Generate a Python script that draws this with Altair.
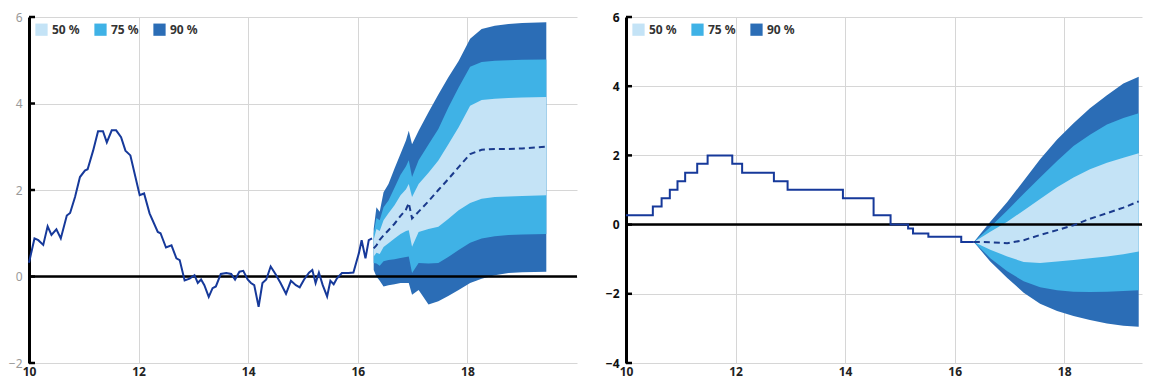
import altair as alt
import pandas as pd

# ---------------- Left panel ----------------
L_hist_x = [10.00, 10.10, 10.17, 10.26, 10.34, 10.41, 10.50, 10.58, 10.69, 10.75, 10.84, 10.93,
            11.02, 11.07, 11.17, 11.26, 11.35, 11.42, 11.51, 11.59, 11.68, 11.76, 11.85, 12.02,
            12.10, 12.20, 12.35, 12.40, 12.50, 12.60, 12.69, 12.75, 12.84, 12.93, 13.02, 13.08,
            13.14, 13.20, 13.28, 13.35, 13.41, 13.50, 13.60, 13.69, 13.76, 13.84, 13.91, 13.99,
            14.05, 14.11, 14.19, 14.26, 14.33, 14.41, 14.50, 14.59, 14.69, 14.78, 14.87, 14.94,
            15.02, 15.11, 15.17, 15.23, 15.29, 15.36, 15.44, 15.50, 15.56, 15.62, 15.71, 15.83,
            15.92, 16.02, 16.07, 16.14, 16.20, 16.26]
L_hist_y = [0.32, 0.88, 0.84, 0.73, 1.16, 0.96, 1.09, 0.88, 1.41, 1.47, 1.84, 2.30,
            2.45, 2.48, 2.91, 3.36, 3.36, 3.10, 3.38, 3.38, 3.22, 2.91, 2.80, 1.88,
            1.92, 1.46, 1.03, 1.00, 0.67, 0.72, 0.42, 0.38, -0.09, -0.05, 0.03, -0.15,
            -0.07, -0.20, -0.47, -0.27, -0.23, 0.06, 0.08, 0.06, -0.07, 0.11, 0.13, -0.07,
            -0.15, -0.20, -0.70, -0.15, -0.07, 0.23, 0.05, -0.15, -0.40, -0.10, -0.20, -0.25,
            -0.07, 0.09, 0.15, -0.15, 0.09, -0.20, -0.46, -0.10, -0.18, -0.04, 0.08, 0.08,
            0.09, 0.54, 0.84, 0.42, 0.84, 0.88]

L_fan_x = [16.29, 16.34, 16.40, 16.47, 16.56, 16.67, 16.78, 16.88, 16.93, 16.99, 17.11,
           17.29, 17.47, 17.65, 17.84, 18.05, 18.26, 18.50, 18.75, 19.00, 19.44]
L_hi90 = [1.10, 1.60, 1.50, 1.95, 2.14, 2.50, 2.84, 3.15, 3.37, 3.06, 3.37,
          3.80, 4.21, 4.60, 4.98, 5.50, 5.72, 5.80, 5.84, 5.86, 5.88]
L_hi75 = [1.00, 1.35, 1.30, 1.60, 1.76, 2.05, 2.35, 2.55, 2.69, 2.30, 2.69,
          3.05, 3.41, 3.90, 4.37, 4.85, 4.96, 4.99, 5.00, 5.01, 5.02]
L_hi50 = [0.85, 1.10, 1.05, 1.30, 1.46, 1.65, 1.88, 2.02, 2.14, 1.84, 2.14,
          2.40, 2.68, 3.05, 3.45, 3.95, 4.08, 4.11, 4.13, 4.14, 4.15]
L_med = [0.65, 0.72, 0.85, 0.95, 1.07, 1.22, 1.40, 1.55, 1.70, 1.34, 1.50,
         1.74, 2.00, 2.25, 2.53, 2.83, 2.93, 2.95, 2.95, 2.96, 3.00]
L_lo50 = [0.46, 0.55, 0.52, 0.68, 0.77, 0.88, 0.98, 1.05, 1.07, 0.69, 1.03,
          1.10, 1.15, 1.33, 1.53, 1.70, 1.80, 1.84, 1.85, 1.86, 1.88]
L_lo75 = [0.31, 0.30, 0.25, 0.35, 0.38, 0.40, 0.43, 0.45, 0.46, 0.08, 0.31,
          0.30, 0.31, 0.45, 0.61, 0.78, 0.88, 0.93, 0.96, 0.97, 0.98]
L_lo90 = [0.15, 0.00, -0.10, -0.23, -0.20, -0.18, -0.15, -0.15, -0.15, -0.42, -0.31,
          -0.65, -0.57, -0.45, -0.31, -0.15, -0.05, 0.03, 0.08, 0.10, 0.11]

# ---------------- Right panel ----------------
R_hist_x = [10.00, 10.49, 10.65, 10.80, 10.94, 11.08, 11.30, 11.49, 11.94, 12.12, 12.70,
            12.95, 13.96, 14.52, 14.83, 15.15, 15.24, 15.52, 16.12, 16.35]
R_hist_y = [0.27, 0.52, 0.76, 1.01, 1.25, 1.50, 1.76, 2.00, 1.76, 1.50, 1.25,
            1.01, 0.76, 0.27, 0.00, -0.11, -0.26, -0.35, -0.50, -0.50]

R_fan_x = [16.35, 16.65, 16.96, 17.26, 17.56, 17.87, 18.17, 18.47, 18.78, 19.08, 19.36]
R_hi90 = [-0.50, 0.08, 0.65, 1.27, 1.89, 2.46, 2.93, 3.36, 3.74, 4.08, 4.27]
R_hi75 = [-0.50, -0.07, 0.41, 0.89, 1.36, 1.84, 2.27, 2.60, 2.89, 3.08, 3.22]
R_hi50 = [-0.50, -0.21, 0.08, 0.41, 0.74, 1.08, 1.36, 1.60, 1.79, 1.93, 2.06]
R_med = [-0.50, -0.51, -0.54, -0.45, -0.30, -0.16, -0.02, 0.17, 0.33, 0.49, 0.67]
R_lo50 = [-0.50, -0.73, -0.92, -1.08, -1.11, -1.07, -1.02, -0.97, -0.92, -0.86, -0.78]
R_lo75 = [-0.50, -0.97, -1.35, -1.64, -1.81, -1.90, -1.94, -1.95, -1.94, -1.92, -1.90]
R_lo90 = [-0.50, -1.07, -1.54, -1.97, -2.29, -2.50, -2.64, -2.76, -2.86, -2.92, -2.95]

BANDS = ["50 %", "75 %", "90 %"]
BAND_COLORS = ["#c4e3f6", "#3fb2e6", "#2b6db6"]
X_TICKS = [10, 12, 14, 16, 18]
L_Y_TICKS = [-2, 0, 2, 4, 6]
R_Y_TICKS = [-4, -2, 0, 2, 4, 6]

FONT = "Noto Sans"
LINE_COLOR = "#16399a"


def fan_df(xs, lo, hi, band):
    return pd.DataFrame({"x": xs, "lo": lo, "hi": hi, "band": band})


def panel(hist_x, hist_y, step, fan_x, lo90, lo75, lo50, med, hi50, hi75, hi90,
          xmax, ydom, yticks, width, ylab_color, ylab_weight):
    xs = alt.Scale(domain=[10, xmax], nice=False, zero=False)
    ys = alt.Scale(domain=ydom, nice=False, zero=False)
    xaxis = alt.Axis(values=X_TICKS, format="d", grid=True, gridColor="#d6d6d6",
                     gridWidth=1, domain=False, ticks=False, labelFont=FONT,
                     labelFontWeight="bold", labelFontSize=12, labelColor="#222",
                     labelPadding=3, labelFlush=False)
    yaxis = alt.Axis(values=yticks, format="d", grid=True, gridColor="#d6d6d6",
                     gridWidth=1, domain=True, domainColor="black", domainWidth=3,
                     ticks=False, labelFont=FONT, labelFontWeight=ylab_weight,
                     labelFontSize=12, labelColor=ylab_color, labelPadding=7)
    color = alt.Color("band:N",
                      scale=alt.Scale(domain=BANDS, range=BAND_COLORS),
                      legend=alt.Legend(title=None, orient="top-left", direction="horizontal",
                                        symbolType="square", symbolSize=150,
                                        symbolOpacity=1, symbolStrokeWidth=0,
                                        labelFont=FONT, labelFontWeight="bold",
                                        labelFontSize=12, labelColor="#333",
                                        columnPadding=14, offset=6))
    layers = []
    for b, lo, hi in [("90 %", lo90, hi90), ("75 %", lo75, hi75), ("50 %", lo50, hi50)]:
        layers.append(
            alt.Chart(fan_df(fan_x, lo, hi, b)).mark_area(opacity=1).encode(
                x=alt.X("x:Q", scale=xs, axis=xaxis, title=None),
                y=alt.Y("lo:Q", scale=ys, axis=yaxis, title=None),
                y2="hi:Q",
                color=color,
            )
        )
    zero = alt.Chart(pd.DataFrame({"v": [0]})).mark_rule(color="black", strokeWidth=2.5).encode(
        y=alt.Y("v:Q", scale=ys, axis=yaxis, title=None))
    hist = alt.Chart(pd.DataFrame({"x": hist_x, "y": hist_y})).mark_line(
        color=LINE_COLOR, strokeWidth=2, interpolate="step-after" if step else "linear").encode(
        x=alt.X("x:Q", scale=xs, axis=xaxis, title=None),
        y=alt.Y("y:Q", scale=ys, axis=yaxis, title=None))
    medl = alt.Chart(pd.DataFrame({"x": fan_x, "y": med})).mark_line(
        color="#1a3a8c", strokeWidth=2, strokeDash=[6, 4]).encode(
        x=alt.X("x:Q", scale=xs, axis=xaxis, title=None),
        y=alt.Y("y:Q", scale=ys, axis=yaxis, title=None))
    ticks = alt.Chart(pd.DataFrame({"v": yticks})).mark_rule(color="black", strokeWidth=2.5).encode(
        x=alt.value(0), x2=alt.value(6),
        y=alt.Y("v:Q", scale=ys, axis=yaxis, title=None))
    return alt.layer(*layers, zero, hist, medl, ticks).properties(width=width, height=346)


left = panel(L_hist_x, L_hist_y, False, L_fan_x, L_lo90, L_lo75, L_lo50, L_med,
             L_hi50, L_hi75, L_hi90, 20, [-2, 6], L_Y_TICKS, 548, "#9a9a9a", "normal")
right = panel(R_hist_x, R_hist_y, True, R_fan_x, R_lo90, R_lo75, R_lo50, R_med,
              R_hi50, R_hi75, R_hi90, 19.42, [-4, 6], R_Y_TICKS, 516, "#111", "bold")

chart = alt.hconcat(left, right, spacing=26).resolve_scale(
    color="independent", x="independent", y="independent"
).configure_view(stroke=None).properties(background="white", padding={"top": 3, "left": 0, "right": 0, "bottom": 6})

chart.save("out.html", embed_options={"renderer": "svg", "actions": False})
